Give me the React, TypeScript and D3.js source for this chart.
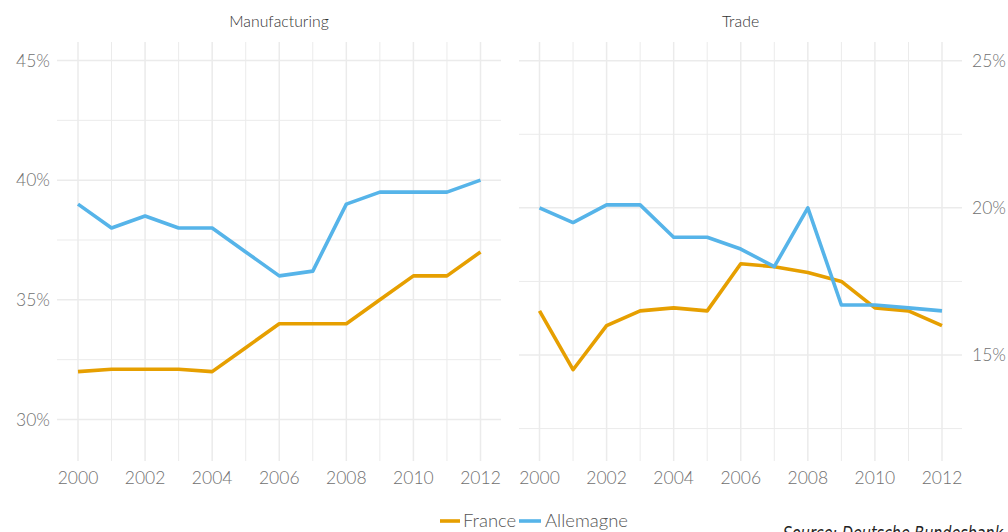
import React from "react";
import * as d3 from "d3";

const years = [2000, 2001, 2002, 2003, 2004, 2005, 2006, 2007, 2008, 2009, 2010, 2011, 2012];
const manufFrance = [32.0, 32.1, 32.1, 32.1, 32.0, 33.0, 34.0, 34.0, 34.0, 35.0, 36.0, 36.0, 37.0];
const manufGermany = [39.0, 38.0, 38.5, 38.0, 38.0, 37.0, 36.0, 36.2, 39.0, 39.5, 39.5, 39.5, 40.0];
const tradeFrance = [16.5, 14.5, 16.0, 16.5, 16.6, 16.5, 18.1, 18.0, 17.8, 17.5, 16.6, 16.5, 16.0];
const tradeGermany = [20.0, 19.5, 20.1, 20.1, 19.0, 19.0, 18.6, 18.0, 20.0, 16.7, 16.7, 16.6, 16.5];
const xTicks = [2000, 2002, 2004, 2006, 2008, 2010, 2012];
const manufYTicks = [30, 35, 40, 45];
const manufYMinor = [32.5, 37.5, 42.5];
const tradeYTicks = [15, 20, 25];
const tradeYMinor = [12.5, 17.5, 22.5];
const panelTitles = ["Manufacturing", "Trade"];
const seriesNames = ["France", "Allemagne"];
const colors = ["#E69F00", "#56B4E9"];

const FONT = "Lato, 'Open Sans', sans-serif";
const GRID = "#ebebeb";
const TOP = 42;
const BOTTOM = 461;

type PanelProps = {
  x0: number;
  x1: number;
  plotL: number;
  plotR: number;
  domain: [number, number];
  majors: number[];
  minors: number[];
  france: number[];
  germany: number[];
  title: string;
  axisSide: "left" | "right";
};

function Panel(p: PanelProps) {
  const x = d3.scaleLinear().domain([2000, 2012]).range([p.plotL, p.plotR]);
  const y = d3.scaleLinear().domain(p.domain).range([BOTTOM, TOP]);
  const line = d3
    .line<number>()
    .x((_, i) => x(years[i]))
    .y((v) => y(v));
  return (
    <g>
      {years.map((yr) => (
        <line
          key={"v" + yr}
          x1={x(yr)}
          x2={x(yr)}
          y1={TOP}
          y2={BOTTOM}
          stroke={GRID}
          strokeWidth={xTicks.includes(yr) ? 1.5 : 1}
        />
      ))}
      {p.minors.map((v) => (
        <line key={"hm" + v} x1={p.x0} x2={p.x1} y1={y(v)} y2={y(v)} stroke={GRID} strokeWidth={1} />
      ))}
      {p.majors.map((v) => (
        <line key={"hM" + v} x1={p.x0} x2={p.x1} y1={y(v)} y2={y(v)} stroke={GRID} strokeWidth={1.5} />
      ))}
      <path d={line(p.france) || ""} fill="none" stroke={colors[0]} strokeWidth={3.6} strokeLinejoin="round" />
      <path d={line(p.germany) || ""} fill="none" stroke={colors[1]} strokeWidth={3.6} strokeLinejoin="round" />
      {xTicks.map((yr) => (
        <text
          key={"xt" + yr}
          x={x(yr)}
          y={484}
          textAnchor="middle"
          fontFamily={FONT}
          fontWeight={300}
          fontSize={17.5}
          fill="#707070"
        >
          {yr}
        </text>
      ))}
      {p.majors.map((v) => (
        <text
          key={"yt" + v}
          x={p.axisSide === "left" ? 50 : 972}
          y={y(v)}
          dy="0.36em"
          textAnchor={p.axisSide === "left" ? "end" : "start"}
          fontFamily={FONT}
          fontWeight={300}
          fontSize={17.5}
          fill="#707070"
        >
          {v + "%"}
        </text>
      ))}
      <text
        x={(p.x0 + p.x1) / 2}
        y={27}
        textAnchor="middle"
        fontFamily={FONT}
        fontWeight={300}
        fontSize={15.8}
        fill="#333"
      >
        {p.title}
      </text>
    </g>
  );
}

export default function App() {
  return (
    <svg
      width={1008}
      height={532}
      style={{ position: "absolute", left: 0, top: 0, background: "#fff" }}
    >
      <rect width={1008} height={532} fill="#fff" />
      <Panel
        x0={57}
        x1={501}
        plotL={78}
        plotR={480.5}
        domain={[30 - (BOTTOM - 419.5) / 23.93, 45 + (60.5 - TOP) / 23.93]}
        majors={manufYTicks}
        minors={manufYMinor}
        france={manufFrance}
        germany={manufGermany}
        title={panelTitles[0]}
        axisSide="left"
      />
      <Panel
        x0={519}
        x1={962}
        plotL={539.5}
        plotR={942}
        domain={[15 - (BOTTOM - 355) / 29.43, 25 + (60.7 - TOP) / 29.43]}
        majors={tradeYTicks}
        minors={tradeYMinor}
        france={tradeFrance}
        germany={tradeGermany}
        title={panelTitles[1]}
        axisSide="right"
      />
      <g>
        <line x1={440} x2={460} y1={521} y2={521} stroke={colors[0]} strokeWidth={3.6} />
        <text x={463} y={527} fontFamily={FONT} fontWeight={300} fontSize={18.5} fill="#555">
          {seriesNames[0]}
        </text>
        <line x1={519} x2={541} y1={521} y2={521} stroke={colors[1]} strokeWidth={3.6} />
        <text x={545} y={527} fontFamily={FONT} fontWeight={300} fontSize={18.5} fill="#555">
          {seriesNames[1]}
        </text>
      </g>
      <text
        x={783}
        y={540}
        fontFamily="'Liberation Sans Narrow', 'DejaVu Sans Condensed', sans-serif"
        fontStyle="italic"
        fontSize={19}
        textLength={220}
        lengthAdjust="spacingAndGlyphs"
        fill="#222"
      >
        Source: Deutsche Bundesbank
      </text>
    </svg>
  );
}
